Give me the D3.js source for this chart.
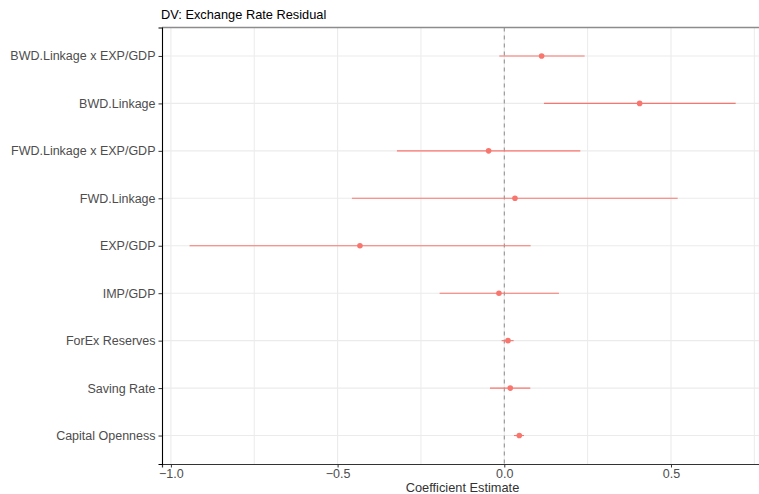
<!DOCTYPE html>
<html>
<head>
<meta charset="utf-8">
<script src="https://cdn.jsdelivr.net/npm/d3@7"></script>
<style>
  html, body { margin: 0; padding: 0; background: #fff; }
  svg { display: block; font-family: "Liberation Sans", Arial, Helvetica, sans-serif; }
</style>
</head>
<body>
<svg id="chart" width="759" height="494"></svg>
<script>
// ---- data ----
const categories = [
  "BWD.Linkage x EXP/GDP",
  "BWD.Linkage",
  "FWD.Linkage x EXP/GDP",
  "FWD.Linkage",
  "EXP/GDP",
  "IMP/GDP",
  "ForEx Reserves",
  "Saving Rate",
  "Capital Openness"
];
const estimates = [0.112, 0.406, -0.047, 0.032, -0.433, -0.016, 0.011, 0.018, 0.045];
const lowerCI   = [-0.015, 0.119, -0.322, -0.457, -0.944, -0.194, -0.008, -0.043, 0.029];
const upperCI   = [0.241, 0.694, 0.228, 0.520, 0.079, 0.164, 0.028, 0.078, 0.059];
const xTicks = [-1.0, -0.5, 0.0, 0.5];
const xMinorTicks = [-0.75, -0.25, 0.25, 0.75];
const titleText = "DV: Exchange Rate Residual";
const xAxisTitle = "Coefficient Estimate";

const rows = categories.map((c, i) => ({ name: c, est: estimates[i], lo: lowerCI[i], hi: upperCI[i] }));

// ---- layout ----
const svg = d3.select("#chart");
const panel = { left: 162, right: 763, top: 27.5, bottom: 464 };
const color = "#F8766D";

const x = d3.scaleLinear().domain([-1.0267, 0.776]).range([panel.left, panel.right]);
const y = d3.scalePoint().domain(categories).range([panel.top, panel.bottom]).padding(0.6);

// gridlines
const grid = svg.append("g");
grid.selectAll("line.vminor").data(xMinorTicks).join("line")
  .attr("x1", d => x(d)).attr("x2", d => x(d))
  .attr("y1", panel.top).attr("y2", panel.bottom)
  .attr("stroke", "#EBEBEB").attr("stroke-width", 1);
grid.selectAll("line.vmajor").data(xTicks).join("line")
  .attr("x1", d => x(d)).attr("x2", d => x(d))
  .attr("y1", panel.top).attr("y2", panel.bottom)
  .attr("stroke", "#EBEBEB").attr("stroke-width", 1.1);
grid.selectAll("line.h").data(categories).join("line")
  .attr("x1", panel.left).attr("x2", panel.right)
  .attr("y1", d => y(d)).attr("y2", d => y(d))
  .attr("stroke", "#EBEBEB").attr("stroke-width", 1.1);

// zero line
svg.append("line")
  .attr("x1", x(0)).attr("x2", x(0))
  .attr("y1", panel.top).attr("y2", panel.bottom)
  .attr("stroke", "#8a8a8a").attr("stroke-width", 1)
  .attr("stroke-dasharray", "4,4");

// intervals
svg.append("g").selectAll("line").data(rows).join("line")
  .attr("x1", d => x(d.lo)).attr("x2", d => x(d.hi))
  .attr("y1", d => y(d.name)).attr("y2", d => y(d.name))
  .attr("stroke", color).attr("stroke-width", 1.1);

// points
svg.append("g").selectAll("circle").data(rows).join("circle")
  .attr("cx", d => x(d.est)).attr("cy", d => y(d.name))
  .attr("r", 2.8).attr("fill", color);

// panel border top line
svg.append("line").attr("x1", panel.left).attr("x2", panel.right)
  .attr("y1", panel.top).attr("y2", panel.top)
  .attr("stroke", "#8c8c8c").attr("stroke-width", 1.6);

// axes
const xAxis = svg.append("g").attr("transform", `translate(0,${panel.bottom})`)
  .call(d3.axisBottom(x).tickValues(xTicks).tickFormat(d3.format(".1f")).tickSize(3.5).tickPadding(2));
xAxis.select(".domain").attr("stroke", "#333").attr("stroke-width", 1.2);
xAxis.selectAll(".tick line").attr("stroke", "#333");
xAxis.selectAll(".tick text")
  .attr("fill", "#4D4D4D").attr("font-size", "12.5px")
  .attr("font-family", "Liberation Sans, Arial, sans-serif")
  .text(d => d3.format(".1f")(d).replace("-", "\u2212"));

const yAxis = svg.append("g").attr("transform", `translate(${panel.left},0)`)
  .call(d3.axisLeft(y).tickSize(3.5).tickPadding(3));
yAxis.select(".domain").attr("stroke", "#000").attr("stroke-width", 1.1);
yAxis.selectAll(".tick line").attr("stroke", "#333");
yAxis.selectAll(".tick text")
  .attr("fill", "#4D4D4D").attr("font-size", "12.5px")
  .attr("font-family", "Liberation Sans, Arial, sans-serif");

// title
svg.append("text").attr("x", 161).attr("y", 18.5)
  .attr("font-size", "12.8px").attr("fill", "#000").text(titleText);

// x axis title
svg.append("text").attr("x", (panel.left + panel.right) / 2).attr("y", 492)
  .attr("text-anchor", "middle").attr("font-size", "12.8px").attr("fill", "#333")
  .text(xAxisTitle);
</script>
</body>
</html>
